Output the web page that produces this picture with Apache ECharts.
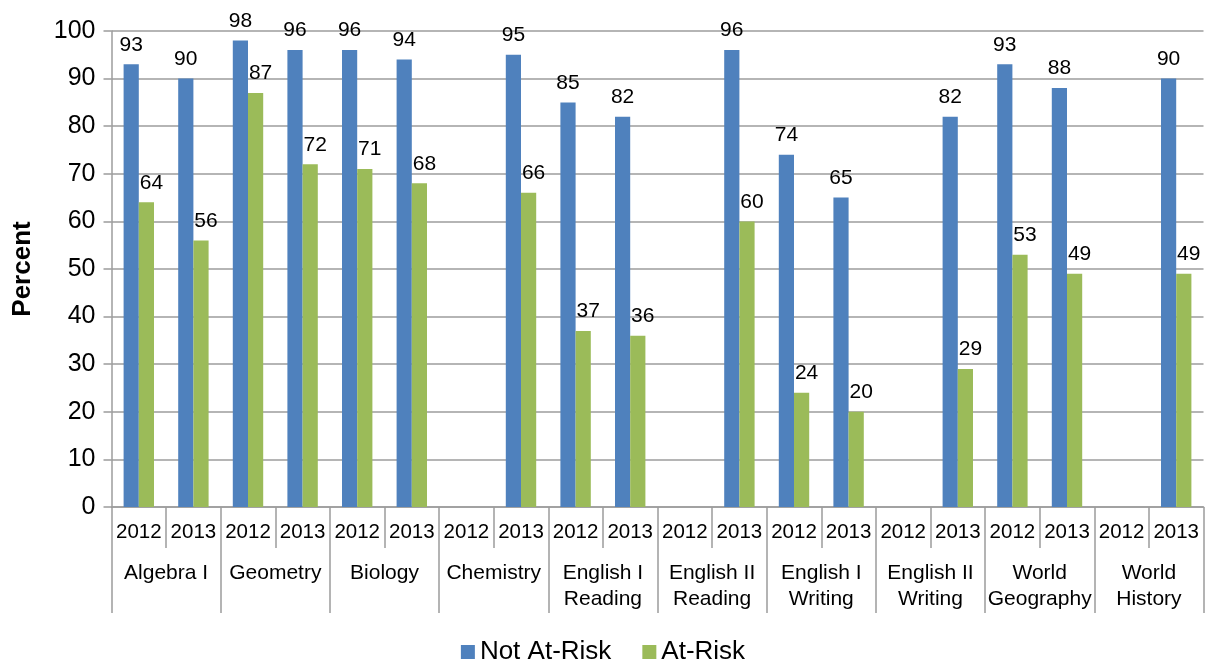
<!DOCTYPE html>
<html>
<head>
<meta charset="utf-8">
<script src="https://cdn.jsdelivr.net/npm/echarts@6/dist/echarts.min.js"></script>
<style>
html,body{margin:0;padding:0;background:#fff;}
#chart{width:1206px;height:662px;}
</style>
</head>
<body>
<div id="chart"></div>
<script>
var years = ['2012','2013','2012','2013','2012','2013','2012','2013','2012','2013',
             '2012','2013','2012','2013','2012','2013','2012','2013','2012','2013'];
var subjects = ['Algebra I','Geometry','Biology','Chemistry','English I\nReading','English II\nReading',
                'English I\nWriting','English II\nWriting','World\nGeography','World\nHistory'];
var notAtRisk = [93,90,98,96,96,94,null,95,85,82,null,96,74,65,null,82,93,88,null,90];
var atRisk    = [64,56,87,72,71,68,null,66,37,36,null,60,24,20,null,29,53,49,null,49];
var yTicks = {min:0, max:100, interval:10};

var FONT = 'Liberation Sans, Arial, sans-serif';
var GRAY = '#9c9c9c';
var chart = echarts.init(document.getElementById('chart'));
chart.setOption({
  animation:false,
  textStyle:{fontFamily:FONT},
  grid:{left:111.5, right:2.5, top:31, bottom:155, containLabel:false, outerBoundsMode:'none'},
  legend:{
    top:634, left:'center',
    itemWidth:14, itemHeight:14, itemGap:31,
    icon:'rect',
    textStyle:{fontSize:26, color:'#000', fontFamily:FONT},
    data:['Not At-Risk','At-Risk']
  },
  xAxis:[{
    type:'category', data:years, position:'bottom',
    axisLine:{show:true, lineStyle:{color:GRAY, width:1.5}},
    axisTick:{show:true, interval:0, length:41, lineStyle:{color:GRAY, width:1.5}},
    axisLabel:{interval:0, fontSize:20.5, color:'#000', margin:15, fontFamily:FONT},
    splitLine:{show:false}
  },{
    type:'category', data:subjects, position:'bottom', offset:41,
    axisLine:{show:false},
    axisTick:{show:true, interval:0, length:65, lineStyle:{color:GRAY, width:1.5}},
    axisLabel:{interval:0, fontSize:21, lineHeight:26, color:'#000', margin:12, fontFamily:FONT},
    splitLine:{show:false}
  }],
  yAxis:{
    type:'value', min:yTicks.min, max:yTicks.max, interval:yTicks.interval,
    name:'Percent', nameLocation:'middle', nameRotate:90, nameGap:76,
    nameTextStyle:{fontSize:26, fontWeight:'bold', color:'#000', fontFamily:FONT},
    axisLine:{show:true, lineStyle:{color:GRAY, width:1.5}},
    axisTick:{show:true, length:8, lineStyle:{color:GRAY, width:1.5}},
    axisLabel:{fontSize:25, color:'#000', margin:16, fontFamily:FONT},
    splitLine:{show:true, lineStyle:{color:GRAY, width:1.5}}
  },
  series:[{
    name:'Not At-Risk', type:'bar', xAxisIndex:0, data:notAtRisk,
    barWidth:15.2, barGap:'0%',
    itemStyle:{color:'#4f81bd'},
    label:{show:true, position:'top', distance:9, fontSize:21, color:'#000', fontFamily:FONT}
  },{
    name:'At-Risk', type:'bar', xAxisIndex:0, data:atRisk,
    barWidth:15.2, barGap:'0%',
    itemStyle:{color:'#9bbb59'},
    label:{show:true, position:'top', distance:9, offset:[5,0], fontSize:21, color:'#000', fontFamily:FONT}
  }]
});
</script>
</body>
</html>
